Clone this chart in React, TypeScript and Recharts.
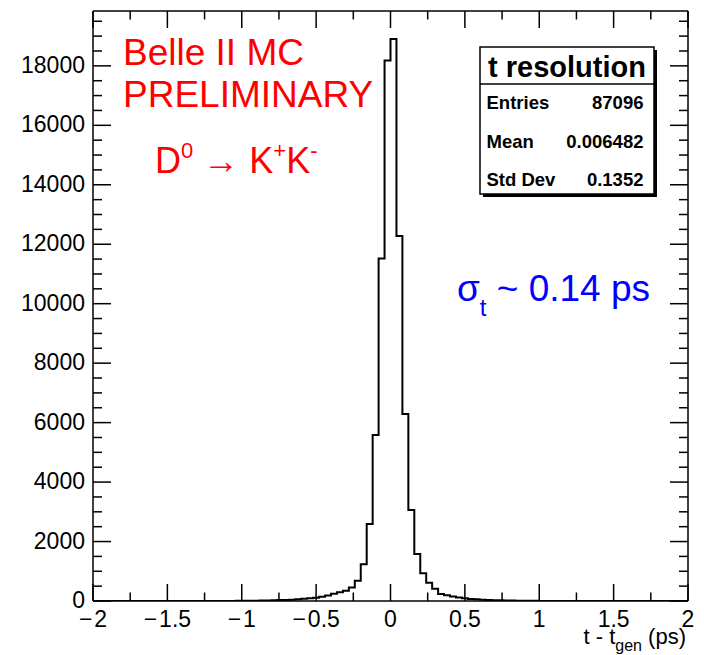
import React from 'react';
import { ComposedChart, Line, XAxis, YAxis, Customized } from 'recharts';

// Histogram definition: 100 bins from -2 to 2 (ps)
const X_MIN = -2;
const X_MAX = 2;
const BIN_WIDTH = 0.04;
const Y_MAX = 19845;

// Bin contents (bin i covers [-2 + 0.04 i, -2 + 0.04 (i+1)])
const binCounts = [
  0, 0, 0, 0, 0, 0, 0, 0, 0, 0,
  0, 0, 0, 0, 0, 1, 1, 1, 1, 1,
  2, 2, 3, 4, 5, 7, 9, 12, 15, 19,
  24, 30, 37, 46, 58, 72, 90, 110, 140, 185,
  240, 293, 346, 454, 680, 1240, 2590, 5580, 11520, 18180,
  18900, 12280, 6290, 3060, 1580, 930, 615, 414, 235, 195,
  150, 115, 90, 70, 55, 44, 35, 28, 22, 17,
  13, 10, 8, 6, 5, 4, 3, 3, 2, 2,
  1, 1, 1, 1, 1, 0, 0, 0, 0, 0,
  0, 0, 0, 0, 0, 0, 0, 0, 0, 0,
];

const xMajorTicks = [-2, -1.5, -1, -0.5, 0, 0.5, 1, 1.5, 2];
const xMinorTicks = [-1.75, -1.25, -0.75, -0.25, 0.25, 0.75, 1.25, 1.75];
const yMajorTicks = [0, 2000, 4000, 6000, 8000, 10000, 12000, 14000, 16000, 18000];
const yMinorTicks = [
  500, 1000, 1500, 2500, 3000, 3500, 4500, 5000, 5500, 6500, 7000, 7500,
  8500, 9000, 9500, 10500, 11000, 11500, 12500, 13000, 13500, 14500, 15000,
  15500, 16500, 17000, 17500, 18500, 19000, 19500,
];

const statsTitle = 't resolution';
const statsLabels = ['Entries', 'Mean', 'Std Dev'];
const statsValues = ['87096', '0.006482', '0.1352'];

const FONT = '"Liberation Sans", Arial, Helvetica, sans-serif';

const histData = [
  ...binCounts.map((c, i) => ({ x: X_MIN + i * BIN_WIDTH, count: c })),
  { x: X_MAX, count: binCounts[binCounts.length - 1] },
];

const xAllTicks = [...xMajorTicks, ...xMinorTicks].sort((a, b) => a - b);
const yAllTicks = [...yMajorTicks, ...yMinorTicks].sort((a, b) => a - b);

const isMajor = (arr: number[], v: number) => arr.some((m) => Math.abs(m - v) < 1e-9);

const BottomTick = (props: any) => {
  const { x, y, payload } = props;
  const v = payload.value;
  const major = isMajor(xMajorTicks, v);
  return (
    <g>
      <line x1={x} x2={x} y1={y} y2={y - (major ? 17 : 8.5)} stroke="#000" strokeWidth={1.5} />
      {major && (
        <text x={x} y={y + 26} textAnchor="middle" fontSize={23} fontFamily={FONT} fill="#000">
          {v < 0 ? (
            <>
              {'\u2212'}
              <tspan dx={2}>{String(Math.abs(v))}</tspan>
            </>
          ) : (
            String(v)
          )}
        </text>
      )}
    </g>
  );
};

const TopTick = (props: any) => {
  const { x, y, payload } = props;
  const major = isMajor(xMajorTicks, payload.value);
  return <line x1={x} x2={x} y1={y} y2={y + (major ? 17 : 8.5)} stroke="#000" strokeWidth={1.5} />;
};

const LeftTick = (props: any) => {
  const { x, y, payload } = props;
  const major = isMajor(yMajorTicks, payload.value);
  return (
    <g>
      <line x1={x} x2={x + (major ? 18 : 9)} y1={y} y2={y} stroke="#000" strokeWidth={1.5} />
      {major && (
        <text x={x - 8} y={y + 7} textAnchor="end" fontSize={23} fontFamily={FONT} fill="#000">
          {String(payload.value)}
        </text>
      )}
    </g>
  );
};

const RightTick = (props: any) => {
  const { x, y, payload } = props;
  const major = isMajor(yMajorTicks, payload.value);
  return <line x1={x} x2={x - (major ? 18 : 9)} y1={y} y2={y} stroke="#000" strokeWidth={1.5} />;
};

const Annotations = () => (
  <g fontFamily={FONT}>
    {/* Belle II label */}
    <text x={115} y={56.5} fontSize={37} fill="#ff0000">Belle II MC</text>
    <text x={115} y={99} fontSize={37} fill="#ff0000">PRELIMINARY</text>
    <text x={147} y={164.7} fontSize={36} fill="#ff0000">
      D
      <tspan fontSize={22} dy={-15}>0</tspan>
      <tspan fontSize={36} dy={15}>{' \u2192 K'}</tspan>
      <tspan fontSize={22} dy={-15}>+</tspan>
      <tspan fontSize={36} dy={15}>K</tspan>
      <tspan fontSize={22} dy={-15}>-</tspan>
    </text>
    {/* sigma annotation */}
    <text x={449} y={293} fontSize={37} fill="#0000ff">
      {'\u03c3'}
      <tspan fontSize={24} dy={15}>t</tspan>
      <tspan fontSize={37} dy={-15}>{' ~ 0.14 ps'}</tspan>
    </text>
    {/* stats box */}
    <rect x={475} y={42} width={174} height={147} fill="#000" />
    <rect x={472} y={39} width={174} height={147} fill="#fff" stroke="#000" strokeWidth={1.5} />
    <line x1={472} x2={646} y1={76} y2={76} stroke="#000" strokeWidth={1.5} />
    <text x={559} y={68.7} fontSize={29} fontWeight="bold" textAnchor="middle" fill="#000">
      {statsTitle}
    </text>
    {statsLabels.map((lab, i) => (
      <text key={lab} x={478.5} y={101.3 + i * 38.2} fontSize={18.5} fontWeight="bold" fill="#000">
        {lab}
      </text>
    ))}
    {statsValues.map((val, i) => (
      <text key={val} x={635.5} y={101.3 + i * 38.2} fontSize={18.5} fontWeight="bold" textAnchor="end" fill="#000">
        {val}
      </text>
    ))}
    {/* x axis title */}
    <text x={678} y={636} fontSize={22} textAnchor="end" fill="#000">
      t - t
      <tspan fontSize={16} dy={7}>gen</tspan>
      <tspan fontSize={22} dy={-7}>{' (ps)'}</tspan>
    </text>
  </g>
);

export default function App() {
  return (
    <div style={{ width: 696, height: 647, background: '#fff' }}>
      <ComposedChart
        width={696}
        height={647}
        data={histData}
        margin={{ top: 2, right: 15, bottom: 0, left: 0 }}
      >
        <XAxis
          xAxisId="b"
          dataKey="x"
          type="number"
          domain={[X_MIN, X_MAX]}
          allowDataOverflow
          ticks={xAllTicks}
          interval={0}
          tickSize={0}
          tickMargin={0}
          tickLine={false}
          axisLine={{ stroke: '#000', strokeWidth: 1.5 }}
          tick={<BottomTick />}
          height={54}
        />
        <XAxis
          xAxisId="t"
          orientation="top"
          dataKey="x"
          type="number"
          domain={[X_MIN, X_MAX]}
          allowDataOverflow
          ticks={xAllTicks}
          interval={0}
          tickSize={0}
          tickMargin={0}
          tickLine={false}
          axisLine={{ stroke: '#000', strokeWidth: 1.5 }}
          tick={<TopTick />}
          height={1}
        />
        <YAxis
          yAxisId="l"
          type="number"
          domain={[0, Y_MAX]}
          allowDataOverflow
          ticks={yAllTicks}
          interval={0}
          tickSize={0}
          tickMargin={0}
          tickLine={false}
          axisLine={{ stroke: '#000', strokeWidth: 1.5 }}
          tick={<LeftTick />}
          width={85}
        />
        <YAxis
          yAxisId="r"
          orientation="right"
          type="number"
          domain={[0, Y_MAX]}
          allowDataOverflow
          ticks={yAllTicks}
          interval={0}
          tickSize={0}
          tickMargin={0}
          tickLine={false}
          axisLine={{ stroke: '#000', strokeWidth: 1.5 }}
          tick={<RightTick />}
          width={1}
        />
        <Line
          xAxisId="b"
          yAxisId="l"
          type="stepAfter"
          dataKey="count"
          stroke="#000"
          strokeWidth={2}
          dot={false}
          activeDot={false}
          isAnimationActive={false}
        />
        <Customized component={Annotations} />
      </ComposedChart>
    </div>
  );
}
